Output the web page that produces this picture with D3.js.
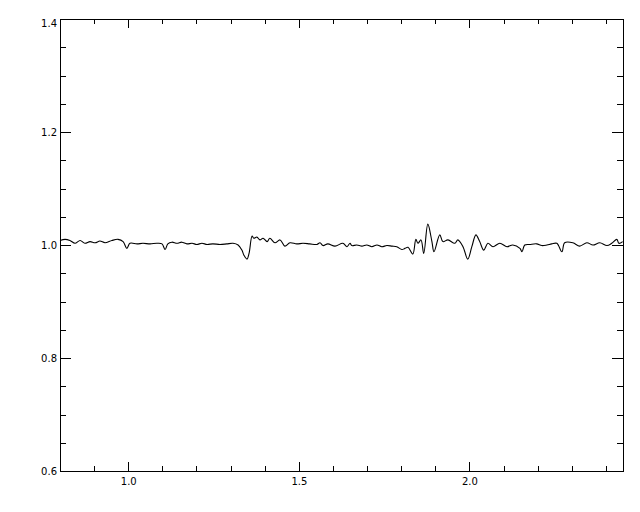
<!DOCTYPE html>
<html>
<head>
<meta charset="utf-8">
<script src="https://cdn.jsdelivr.net/npm/d3@7"></script>
<style>
    body { margin: 0; background: #fff; }
    svg { display: block; }
    .tick text { font-family: "DejaVu Sans", sans-serif; font-size: 10px; fill: #000; }
</style>
</head>
<body>
<svg id="chart"></svg>
<script>
// spectrum (x in micron-ish units, y normalised flux)
const xValues = [
    0.800, 0.815, 0.829, 0.844, 0.859, 0.873, 0.888, 0.903, 0.917, 0.932,
    0.952, 0.970, 0.985, 0.996, 1.005, 1.026, 1.043, 1.064, 1.084, 1.099,
    1.108, 1.116, 1.128, 1.143, 1.157, 1.172, 1.187, 1.201, 1.216, 1.231,
    1.248, 1.269, 1.289, 1.307, 1.322, 1.333, 1.339, 1.348, 1.354, 1.363,
    1.368, 1.377, 1.386, 1.395, 1.407, 1.415, 1.430, 1.445, 1.459, 1.474,
    1.494, 1.512, 1.532, 1.553, 1.562, 1.571, 1.585, 1.606, 1.629, 1.641,
    1.650, 1.655, 1.670, 1.685, 1.699, 1.714, 1.729, 1.743, 1.758, 1.773,
    1.787, 1.802, 1.811, 1.820, 1.834, 1.843, 1.849, 1.858, 1.866, 1.878,
    1.890, 1.896, 1.913, 1.922, 1.937, 1.957, 1.966, 1.981, 1.995, 2.007,
    2.019, 2.030, 2.042, 2.054, 2.069, 2.089, 2.110, 2.127, 2.148, 2.154,
    2.162, 2.177, 2.197, 2.212, 2.227, 2.241, 2.256, 2.271, 2.279, 2.303,
    2.323, 2.344, 2.362, 2.382, 2.403, 2.417, 2.432, 2.438, 2.449
];
const yValues = [
    1.008, 1.010, 1.008, 1.003, 1.008, 1.003, 1.006, 1.004, 1.007, 1.004,
    1.008, 1.010, 1.006, 0.994, 1.003, 1.002, 1.003, 1.002, 1.003, 1.002,
    0.992, 1.002, 1.005, 1.003, 1.005, 1.002, 1.003, 1.001, 1.003, 1.001,
    1.002, 1.001, 1.002, 1.003, 1.000, 0.991, 0.982, 0.975, 0.985, 1.016,
    1.012, 1.014, 1.009, 1.012, 1.006, 1.012, 1.004, 1.009, 0.998, 1.004,
    1.002, 1.003, 1.002, 1.001, 1.004, 0.999, 1.002, 0.998, 1.003, 0.997,
    1.003, 0.999, 1.000, 0.998, 1.000, 0.997, 1.000, 0.997, 0.999, 0.998,
    0.997, 0.992, 0.994, 0.996, 0.984, 1.010, 1.003, 1.009, 0.985, 1.037,
    1.006, 0.988, 1.018, 1.006, 1.009, 1.003, 1.009, 0.997, 0.975, 0.997,
    1.018, 1.006, 0.991, 1.003, 0.997, 1.003, 0.997, 1.000, 0.994, 0.988,
    1.000, 1.001, 1.002, 0.999, 1.000, 1.002, 1.003, 0.988, 1.004, 1.004,
    0.998, 1.004, 1.000, 1.004, 0.999, 1.003, 1.010, 1.003, 1.006
];

const xDomain = [0.8, 2.45];
const yDomain = [0.6, 1.4];
const xMajorTicks = [1.0, 1.5, 2.0];
const xMinorTicks = [0.9, 1.1, 1.2, 1.3, 1.4, 1.6, 1.7, 1.8, 1.9, 2.1, 2.2, 2.3, 2.4];
const yMajorTicks = [0.6, 0.8, 1.0, 1.2, 1.4];
const yMinorTicks = [0.65, 0.7, 0.75, 0.85, 0.9, 0.95, 1.05, 1.1, 1.15, 1.25, 1.3, 1.35];

const config = {
    containerWidth: 640,
    containerHeight: 512,
    margin: { top: 19, right: 17, bottom: 41, left: 60 }
};

const width = config.containerWidth - config.margin.left - config.margin.right;
const height = config.containerHeight - config.margin.top - config.margin.bottom;

const svg = d3.select("#chart")
    .attr("width", config.containerWidth)
    .attr("height", config.containerHeight);

const chart = svg.append("g")
    .attr("transform", `translate(${config.margin.left},${config.margin.top})`);

const xScale = d3.scaleLinear().domain(xDomain).range([0, width]);
const yScale = d3.scaleLinear().domain(yDomain).range([height, 0]);

// IDL style: ticks point inwards, 2% of the plot size, minors half that
const xTickLen = 0.02 * height;
const yTickLen = 0.02 * width;

function addAxis(axis, transform) {
    const g = chart.append("g")
        .attr("transform", transform)
        .style("shape-rendering", "crispEdges")
        .call(axis);
    g.select(".domain").remove();
    g.selectAll(".tick line").attr("stroke", "#000");
    return g;
}

// bottom + top
addAxis(d3.axisBottom(xScale).tickValues(xMajorTicks).tickSize(-xTickLen)
    .tickPadding(7).tickFormat(d3.format(".1f")), `translate(0,${height})`);
addAxis(d3.axisBottom(xScale).tickValues(xMinorTicks).tickSize(-xTickLen / 2)
    .tickFormat(""), `translate(0,${height})`);
addAxis(d3.axisTop(xScale).tickValues(xMajorTicks).tickSize(-xTickLen)
    .tickFormat(""), "translate(0,0)");
addAxis(d3.axisTop(xScale).tickValues(xMinorTicks).tickSize(-xTickLen / 2)
    .tickFormat(""), "translate(0,0)");

// left + right
const yLeft = addAxis(d3.axisLeft(yScale).tickValues(yMajorTicks).tickSize(-yTickLen)
    .tickPadding(3).tickFormat(d3.format(".1f")), "translate(0,0)");
// top label sits a little lower in the original
yLeft.selectAll(".tick text").filter(d => d === 1.4).attr("y", 4);
addAxis(d3.axisLeft(yScale).tickValues(yMinorTicks).tickSize(-yTickLen / 2)
    .tickFormat(""), "translate(0,0)");
addAxis(d3.axisRight(yScale).tickValues(yMajorTicks).tickSize(-yTickLen)
    .tickFormat(""), `translate(${width},0)`);
addAxis(d3.axisRight(yScale).tickValues(yMinorTicks).tickSize(-yTickLen / 2)
    .tickFormat(""), `translate(${width},0)`);

// frame
chart.append("rect")
    .attr("x", 0.5)
    .attr("y", 0.5)
    .attr("width", width)
    .attr("height", height)
    .attr("fill", "none")
    .attr("stroke", "#000")
    .style("shape-rendering", "crispEdges");

const data = xValues.map((x, i) => ({ x: x, y: yValues[i] }));

const line = d3.line()
    .curve(d3.curveCatmullRom.alpha(0.5))
    .x(d => xScale(d.x))
    .y(d => yScale(d.y));

chart.append("path")
    .datum(data)
    .attr("fill", "none")
    .attr("stroke", "#000")
    .attr("stroke-width", 1.1)
    .attr("d", line);
</script>
</body>
</html>
